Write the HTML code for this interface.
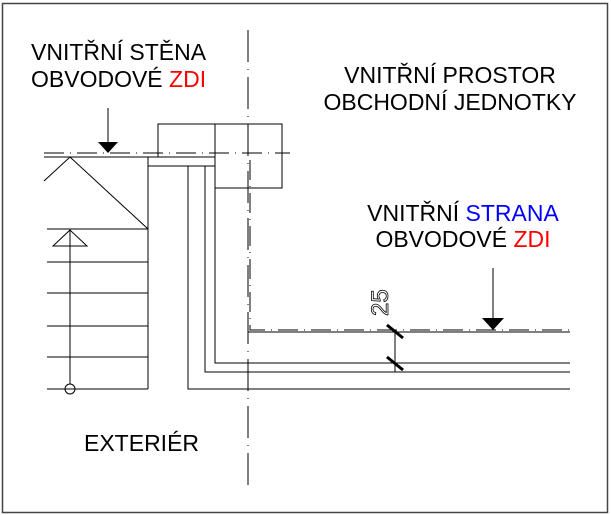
<!DOCTYPE html>
<html><head><meta charset="utf-8"><style>
html,body{margin:0;padding:0;background:#fff;}
svg{display:block;}
text{font-family:"Liberation Sans",Arial,sans-serif;font-size:23px;fill:#000;}
</style></head><body>
<svg width="611" height="515" viewBox="0 0 611 515" xmlns="http://www.w3.org/2000/svg">
<rect x="2.5" y="3.5" width="605" height="509" fill="none" stroke="#444" stroke-width="1.5"/>
<g stroke="#000" stroke-width="1" fill="none">
<line x1="248" y1="30" x2="248" y2="490" stroke-dasharray="32 7 1 7"/>
<line x1="44" y1="153" x2="290" y2="153" stroke-dasharray="20 6 1 6"/>
<line x1="44" y1="157" x2="158" y2="157"/>
<rect x="158" y="124" width="57" height="33"/>
<rect x="215" y="124" width="67" height="64"/>
<rect x="148" y="157" width="67" height="9"/>
<line x1="148" y1="157" x2="148" y2="389"/>
<polyline points="44,181 70,157 148,229"/>
<line x1="47" y1="229" x2="148" y2="229"/>
<line x1="47" y1="262" x2="148" y2="262"/>
<line x1="47" y1="293" x2="148" y2="293"/>
<line x1="47" y1="326" x2="148" y2="326"/>
<line x1="47" y1="357" x2="148" y2="357"/>
<line x1="47" y1="389" x2="148" y2="389"/>
<line x1="70" y1="229" x2="70" y2="384"/>
<polygon points="70,230 53,246 87,246"/>
<circle cx="70" cy="389" r="5"/>
<polyline points="188,166 188,389 570,389"/>
<polyline points="205,166 205,372 570,372"/>
<polyline points="215,188 215,363 570,363"/>
<line x1="248" y1="332" x2="570" y2="332"/>
<polyline points="250,160 250,330 570,330" stroke-dasharray="20 6 1 6"/>
<line x1="395" y1="332" x2="395" y2="372"/>
<line x1="387" y1="325" x2="403" y2="338" stroke-width="3"/>
<line x1="387" y1="357" x2="403" y2="370" stroke-width="3"/>
<line x1="108" y1="108" x2="108" y2="145"/>
<line x1="493" y1="268" x2="493" y2="320"/>
</g>
<polygon points="98,142 118,142 108,153" fill="#000"/>
<polygon points="482,318 504,318 493,330" fill="#000"/>
<text x="0" y="0" transform="translate(388,316) rotate(-90)" style="font-size:24px;fill:none;stroke:#000;stroke-width:0.8">25</text>
<text x="31" y="60">VNITŘNÍ STĚNA</text>
<text x="31" y="87">OBVODOVÉ <tspan style="fill:#f00">ZDI</tspan></text>
<text x="450" y="83" text-anchor="middle">VNITŘNÍ PROSTOR</text>
<text x="450" y="110" text-anchor="middle">OBCHODNÍ JEDNOTKY</text>
<text x="463" y="221" text-anchor="middle">VNITŘNÍ <tspan style="fill:#00f">STRANA</tspan></text>
<text x="463" y="247" text-anchor="middle">OBVODOVÉ <tspan style="fill:#f00">ZDI</tspan></text>
<text x="84" y="451">EXTERIÉR</text>
</svg>
</body></html>
